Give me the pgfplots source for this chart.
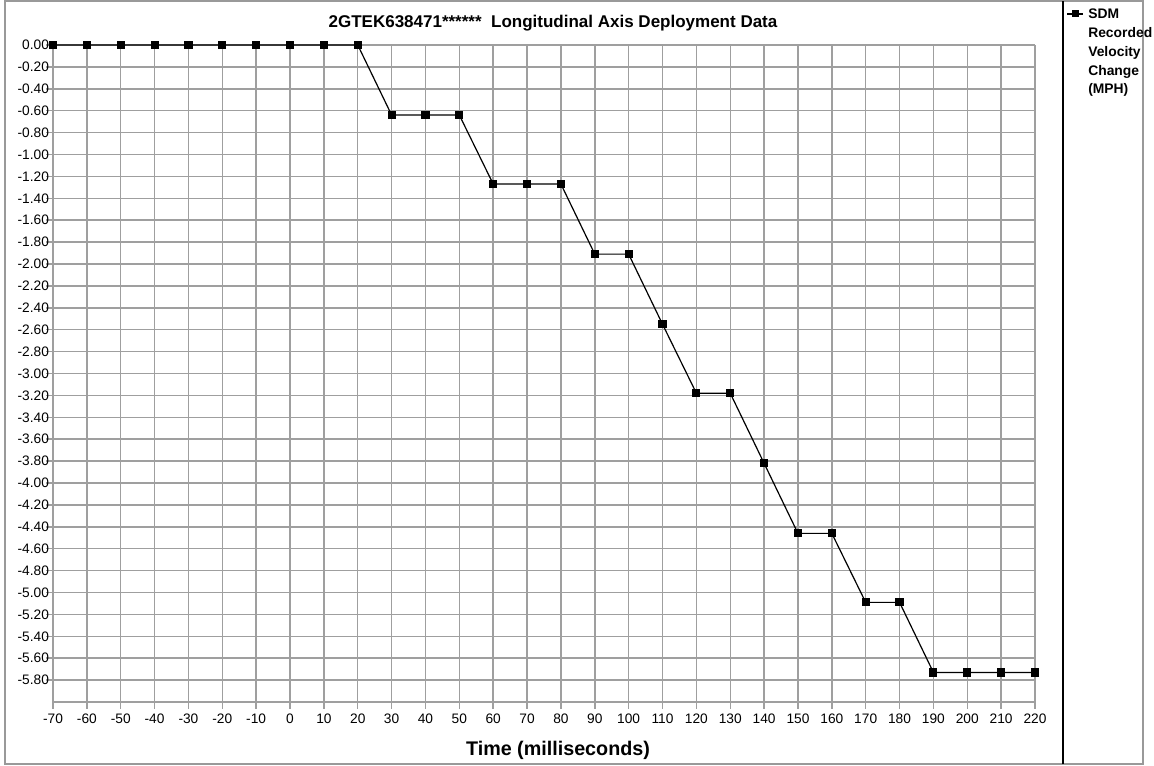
\documentclass[border=0pt]{standalone}
\usepackage{pgfplots}
\pgfplotsset{compat=1.18}
\usepackage{fontspec}
\setmainfont{Liberation Sans}
\begin{document}
\begin{tikzpicture}
\begin{scope}[x=0.75pt,y=0.75pt]
\path[use as bounding box] (0,0) rectangle (1154,765);
\draw[gray!80,line width=1.2pt] (5,1) rectangle (1143,764);
\draw[black,line width=1.2pt] (1063,1) -- (1063,764);
\end{scope}
\begin{axis}[
  at={(39.75pt,47.25pt)}, anchor=south west,
  scale only axis, width=736.5pt, height=492.75pt,
  xmin=-70, xmax=220, ymin=-6, ymax=0,
  xtick={-70,-60,...,220},
  ytick={-5.8,-5.6,...,0.01},
  extra y ticks={-6}, extra y tick labels={},
  extra y tick style={grid=none, major tick length=0pt},
  yticklabel={\pgfmathprintnumber[fixed,fixed zerofill,precision=2]{\tick}},
  /pgf/number format/assume math mode=true,
  grid=major,
  major grid style={gray!75,line width=1.1pt},
  axis line style={gray!75,line width=1.1pt},
  tick style={gray!75,line width=1.1pt},
  tick align=outside, major tick length=5pt,
  xtick pos=left, ytick pos=left,
  axis x line*=bottom, axis y line*=left,
  ticklabel style={font=\fontsize{10.3}{11}\selectfont, text=black},
  xticklabel style={yshift=-0.5pt},
  yticklabel style={xshift=5.5pt},
  clip=false,
]
\addplot[black, line width=0.9pt, mark=square*, mark size=2.6pt, mark options={solid,fill=black}] coordinates {
(-70,0) (-60,0) (-50,0) (-40,0) (-30,0) (-20,0) (-10,0) (0,0) (10,0) (20,0)
(30,-0.64) (40,-0.64) (50,-0.64)
(60,-1.27) (70,-1.27) (80,-1.27)
(90,-1.91) (100,-1.91)
(110,-2.55)
(120,-3.18) (130,-3.18)
(140,-3.82)
(150,-4.46) (160,-4.46)
(170,-5.09) (180,-5.09)
(190,-5.73) (200,-5.73) (210,-5.73) (220,-5.73)
};
\end{axis}
\begin{scope}[x=0.75pt,y=0.75pt]
\node[font=\bfseries\fontsize{12.75}{14}\selectfont] at (553,742) {2GTEK638471******\ \ Longitudinal Axis Deployment Data};
\node[font=\bfseries\fontsize{14.8}{16}\selectfont] at (558,15) {Time (milliseconds)};
\draw[black,line width=0.9pt] (1067,751) -- (1083,751);
\fill[black] (1071.5,747.5) rectangle (1078.5,754.5);
\begin{scope}[every node/.style={anchor=base west, inner sep=0pt, font=\bfseries\fontsize{10.4}{12}\selectfont}]
\node at (1088,746) {SDM};
\node at (1088,727.3) {Recorded};
\node at (1088,708.6) {Velocity};
\node at (1088,689.9) {Change};
\node at (1088,671.2) {(MPH)};
\end{scope}
\end{scope}
\end{tikzpicture}
\end{document}
